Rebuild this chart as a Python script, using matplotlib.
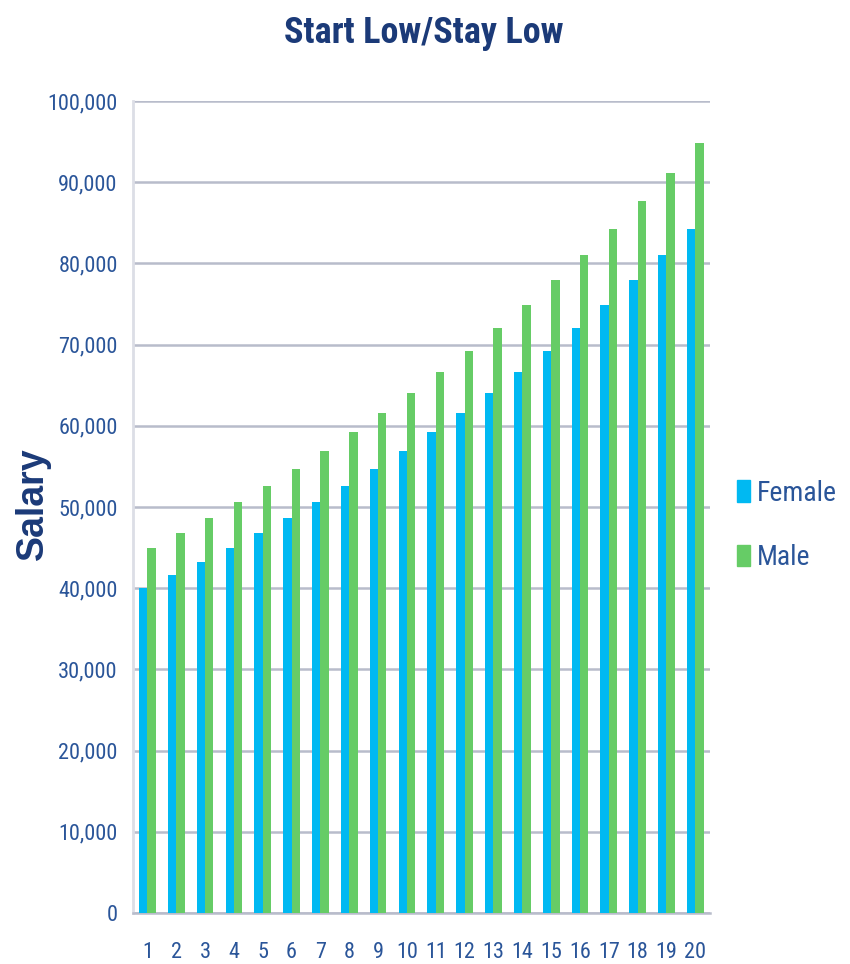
import matplotlib
matplotlib.use("Agg")
import matplotlib.pyplot as plt
from matplotlib.patches import Rectangle
import numpy as np

years = list(range(1, 21))
female = [40000, 41600, 43264, 44995, 46794, 48666, 50613, 52637, 54743, 56932,
          59210, 61578, 64041, 66603, 69267, 72038, 74919, 77916, 81033, 84274]
male = [44995, 46794, 48666, 50613, 52637, 54743, 56932, 59210, 61578, 64041,
        66603, 69267, 72038, 74919, 77916, 81033, 84274, 87645, 91151, 94797]
yticks = list(range(0, 100001, 10000))

narrow = ["Roboto Condensed", "DejaVu Sans"]

title_c = "#1B3A78"
tick_c = "#2A5599"
blue = "#00B9F2"
green = "#66CC66"

fig = plt.figure(figsize=(8.5, 9.64), dpi=100)
ax = fig.add_axes([0.1565, 0.0529, 0.6785, 0.8423])

x = np.array(years)
w = 0.29
ax.bar(x - w / 2, female, width=w, color=blue, zorder=3)
ax.bar(x + w / 2, male, width=w, color=green, zorder=3)

ax.set_xlim(0.5, 20.5)
ax.set_ylim(0, 100000)
ax.set_yticks(yticks)
ax.set_yticklabels([f"{v:,}" for v in yticks], fontfamily=narrow, fontsize=16, color=tick_c)
ax.set_xticks(years)
ax.set_xticklabels([str(v) for v in years], fontfamily=narrow, fontsize=16, color=tick_c)
ax.tick_params(axis="x", length=0, pad=21)
ax.tick_params(axis="y", direction="in", length=4, color="#B8BCCB", pad=11)
ax.grid(axis="y", color="#B8BCCB", linewidth=1.8, zorder=1)
for s in ["top", "right"]:
    ax.spines[s].set_visible(False)
ax.spines["left"].set_color("#DCDEE6")
ax.spines["left"].set_linewidth(2)
ax.spines["bottom"].set_color("#B8BCCB")
ax.spines["bottom"].set_linewidth(1.8)

fig.text(0.498, 0.966, "Start Low/Stay Low", ha="center", va="center",
         fontfamily=narrow, fontweight="bold", fontsize=26, color=title_c)
fig.text(0.039, 0.478, "Salary", rotation=90, ha="center", va="center",
         fontfamily="Liberation Sans", fontweight="bold", fontsize=27, color=title_c)

handles = [Rectangle((0, 0), 1, 1, color=blue), Rectangle((0, 0), 1, 1, color=green)]
leg = fig.legend(handles, ["Female", "Male"], loc="center left",
                 bbox_to_anchor=(0.838, 0.455), frameon=False,
                 prop={"family": narrow, "size": 20},
                 handlelength=0.45, handleheight=0.8, handletextpad=0.25,
                 labelspacing=1.35)
for t in leg.get_texts():
    t.set_color(tick_c)

fig.savefig("out.png", dpi=100)
